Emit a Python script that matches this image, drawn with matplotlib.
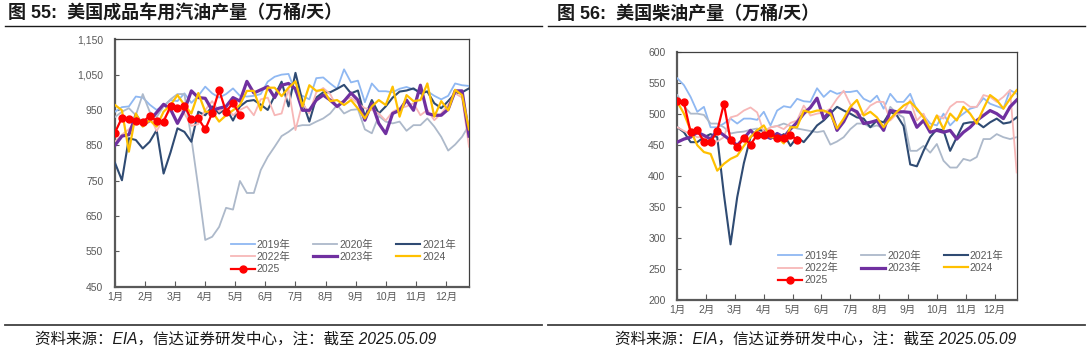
import numpy as np
import matplotlib
matplotlib.use("Agg")
import matplotlib.pyplot as plt
from matplotlib.lines import Line2D
from matplotlib.ticker import FuncFormatter

plt.rcParams['font.family'] = ['Liberation Sans', 'Noto Sans CJK SC', 'DejaVu Sans']

months = ['1月', '2月', '3月', '4月', '5月', '6月', '7月', '8月', '9月', '10月', '11月', '12月']
years = ['2019年', '2020年', '2021年', '2022年', '2023年', '2024', '2025']

# 美国成品车用汽油产量（万桶/天），周度
gas_2019 = [945, 958, 960, 988, 985, 965, 950, 962, 978, 975, 997, 970, 990, 1016, 997, 985,
            995, 1011, 990, 988, 990, 995, 1030, 1044, 1050, 1052, 1000, 990, 980, 1040,
            1042, 1025, 1010, 1065, 1028, 1033, 972, 1025, 1003, 1003, 1000, 1010, 1015,
            1008, 1003, 1003, 990, 980, 990, 1025, 1020, 1018]
gas_2020 = [930, 945, 955, 935, 995, 945, 930, 960, 980, 995, 995, 870, 730, 582, 591, 619,
            673, 668, 749, 715, 715, 780, 817, 846, 876, 888, 903, 907, 907, 917, 926, 940,
            964, 940, 950, 952, 895, 884, 933, 917, 912, 917, 891, 907, 907, 926, 903, 874,
            835, 852, 874, 907]
gas_2021 = [800, 751, 870, 865, 841, 860, 893, 770, 830, 898, 888, 860, 945, 935, 960, 940,
            955, 920, 960, 975, 978, 965, 950, 990, 1030, 960, 1055, 975, 917, 985, 1000,
            1000, 1010, 1021, 997, 1005, 931, 978, 940, 960, 985, 1002, 1005, 1011, 997,
            1002, 969, 955, 975, 997, 1000, 1011]
gas_2022 = [860, 880, 895, 920, 905, 935, 890, 925, 950, 960, 940, 905, 910, 950, 975, 945,
            960, 935, 950, 960, 935, 980, 985, 935, 940, 1010, 893, 969, 940, 1000, 1012,
            995, 957, 978, 985, 969, 955, 950, 940, 920, 945, 955, 960, 969, 935, 950, 921,
            940, 965, 997, 985, 846]
gas_2023 = [850, 876, 880, 935, 907, 920, 943, 966, 952, 912, 949, 1004, 985, 983, 949, 955,
            960, 985, 975, 1031, 998, 1007, 1016, 985, 1020, 1025, 1010, 949, 949, 978, 992,
            978, 960, 975, 998, 978, 921, 969, 912, 883, 940, 949, 978, 949, 1020, 940, 935,
            935, 952, 1004, 1004, 876]
gas_2024 = [964, 949, 832, 940, 903, 921, 903, 945, 964, 992, 964, 940, 998, 945, 945, 917,
            935, 949, 964, 1004, 1004, 949, 1013, 1013, 989, 1013, 1031, 960, 1020, 1004,
            1007, 975, 978, 964, 978, 954, 926, 960, 978, 964, 1016, 931, 992, 975, 978, 1025,
            931, 975, 949, 1007, 992, 895]
gas_2025 = [886, 928, 923, 919, 916, 933, 919, 917, 961, 956, 962, 923, 926, 895, 941, 1006,
            945, 970, 936]

# 美国柴油产量（万桶/天），周度
dsl_2019 = [557, 546, 527, 503, 511, 478, 478, 484, 492, 484, 492, 492, 490, 503, 481, 505,
            512, 510, 524, 520, 519, 541, 527, 537, 532, 535, 535, 537, 524, 519, 529, 508,
            532, 519, 519, 532, 505, 497, 484, 481, 500, 481, 492, 500, 508, 511, 525, 516,
            512, 508, 538, 532]
dsl_2020 = [530, 512, 500, 500, 498, 484, 484, 478, 468, 470, 471, 474, 476, 470, 478, 480,
            484, 480, 476, 474, 472, 470, 472, 450, 455, 462, 475, 484, 484, 478, 481, 476,
            511, 500, 494, 440, 440, 448, 437, 451, 424, 413, 413, 427, 424, 430, 459, 459,
            467, 462, 459, 462]
dsl_2021 = [478, 470, 454, 454, 462, 467, 462, 370, 289, 365, 420, 462, 473, 473, 462, 459,
            467, 448, 462, 454, 467, 481, 489, 500, 511, 505, 500, 494, 492, 478, 489, 486,
            503, 497, 480, 418, 415, 440, 462, 475, 473, 440, 462, 484, 486, 486, 478, 486,
            492, 484, 486, 494]
dsl_2022 = [478, 472, 467, 462, 462, 458, 455, 462, 494, 497, 505, 510, 502, 470, 478, 480,
            475, 485, 489, 513, 497, 500, 502, 508, 524, 537, 515, 497, 500, 513, 519, 519,
            489, 500, 503, 522, 489, 500, 475, 497, 492, 511, 519, 519, 511, 511, 530, 527,
            519, 527, 538, 405]
dsl_2023 = [454, 459, 462, 470, 465, 459, 473, 465, 457, 449, 460, 473, 462, 465, 460, 468,
            462, 475, 486, 500, 510, 525, 492, 505, 473, 487, 508, 503, 484, 486, 489, 473,
            505, 503, 503, 502, 478, 489, 470, 473, 470, 473, 459, 470, 478, 489, 497, 505,
            500, 492, 511, 522]
dsl_2024 = [519, 500, 473, 449, 438, 435, 408, 419, 427, 432, 448, 462, 473, 481, 462, 462,
            452, 478, 478, 505, 502, 505, 505, 500, 476, 492, 511, 522, 497, 503, 494, 478,
            492, 503, 513, 519, 508, 494, 475, 497, 475, 500, 489, 511, 500, 484, 508, 530,
            522, 508, 524, 538]
dsl_2025 = [520, 518, 470, 473, 455, 454, 472, 516, 457, 446, 461, 450, 466, 465, 468, 461,
            461, 465, 458]

colors = ['#8FB8F2', '#ADB9CA', '#2F4B73', '#F7B7B7', '#7030A0', '#FFC000', '#FF0000']
widths = [1.3, 1.3, 1.5, 1.3, 2.3, 1.6, 1.6]
grey = '#595959'

W, H = 1088, 355
fig = plt.figure(figsize=(W / 100, H / 100), dpi=100)


def draw(ax, series, ylim, step, comma, leg_anchor):
    lines = []
    for i, (vals, c, lw) in enumerate(zip(series, colors, widths)):
        x = np.arange(len(vals))
        if i == 6:
            l, = ax.plot(x, vals, color=c, lw=lw, marker='o', ms=5, label=years[i], zorder=10)
        else:
            l, = ax.plot(x, vals, color=c, lw=lw, label=years[i], zorder=3 + i)
        lines.append(l)
    ax.set_xlim(0, 51)
    ax.set_ylim(*ylim)
    ax.set_yticks(np.arange(ylim[0], ylim[1] + 1, step))
    if comma:
        ax.yaxis.set_major_formatter(FuncFormatter(lambda v, p: f'{int(v):,}'))
    ax.set_xticks(np.arange(12) * 52 / 12)
    ax.set_xticklabels(months)
    ax.tick_params(axis='both', direction='in', colors=grey, labelcolor=grey, labelsize=7.5)
    ax.tick_params(axis='y', length=3, pad=8.5)
    ax.tick_params(axis='x', length=4, pad=4)
    for s in ['top', 'right']:
        ax.spines[s].set_color('#404040')
        ax.spines[s].set_linewidth(0.9)
    for s in ['left', 'bottom']:
        ax.spines[s].set_color('#595959')
        ax.spines[s].set_linewidth(1.6)
    # 图例按行排列：matplotlib 按列填充，所以重排
    order = [0, 3, 6, 1, 4, 2, 5]
    ax.legend([lines[k] for k in order], [years[k] for k in order],
              loc='upper left', bbox_to_anchor=leg_anchor, ncol=3, frameon=False,
              fontsize=7.5, labelcolor=grey, handlelength=2.3, handletextpad=0.2,
              columnspacing=2.2, labelspacing=0.22, borderpad=0, borderaxespad=0)


ax1 = fig.add_axes([115 / W, 1 - 286.6 / H, 354 / W, 247.3 / H])
draw(ax1, [gas_2019, gas_2020, gas_2021, gas_2022, gas_2023, gas_2024, gas_2025],
     (450, 1150), 100, True, (0.327, 0.19))

ax2 = fig.add_axes([677.3 / W, 1 - 299.5 / H, 339.4 / W, 247.8 / H])
draw(ax2, [dsl_2019, dsl_2020, dsl_2021, dsl_2022, dsl_2023, dsl_2024, dsl_2025],
     (200, 600), 50, False, (0.298, 0.197))

# 标题与来源
fig.text(8 / W, 1 - 14 / H, '图 55:  美国成品车用汽油产量（万桶/天）', fontsize=13,
         fontweight='bold', va='center', ha='left', color='#1a1a1a')
fig.text(557 / W, 1 - 14 / H, '图 56:  美国柴油产量（万桶/天）', fontsize=13,
         fontweight='bold', va='center', ha='left', color='#1a1a1a')
src = '资料来源：EIA，信达证券研发中心，注：截至 2025.05.09'
fig.text(35 / W, 1 - 339 / H, src, fontsize=11.2, va='center', ha='left', color='#1a1a1a',
         fontstyle='italic')
fig.text(615 / W, 1 - 339 / H, src, fontsize=11.2, va='center', ha='left', color='#1a1a1a',
         fontstyle='italic')

for x0, x1 in [(5, 542), (548, 1085)]:
    fig.add_artist(Line2D([x0 / W, x1 / W], [1 - 26 / H, 1 - 26 / H], color='#1a1a1a', lw=1.0))
    fig.add_artist(Line2D([x0 / W, x1 / W], [1 - 325 / H, 1 - 325 / H], color='#404040', lw=1.3))

fig.savefig('out.png', dpi=100)
